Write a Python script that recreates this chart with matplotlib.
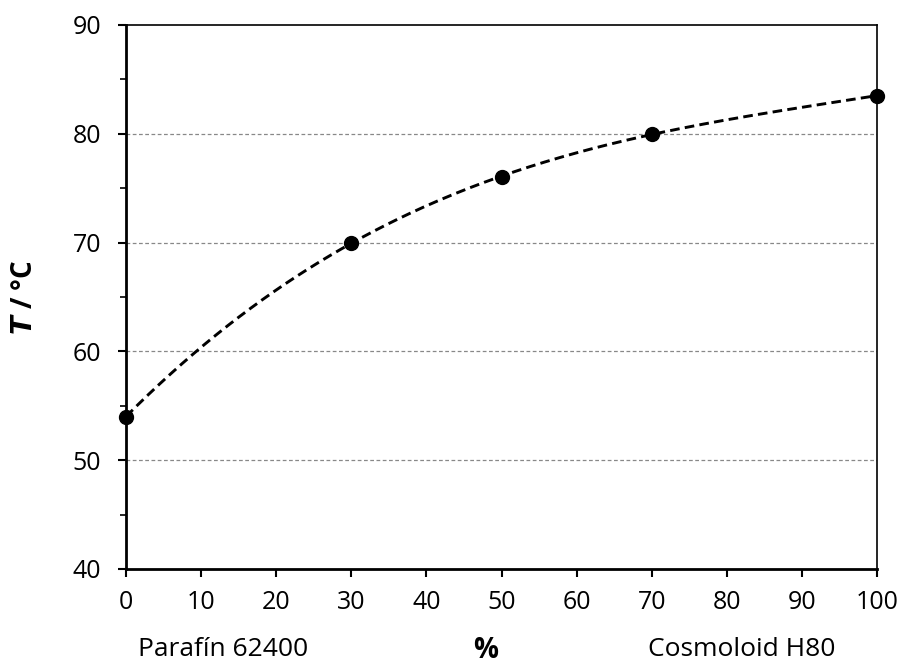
import numpy as np
import matplotlib
matplotlib.use("Agg")
import matplotlib.pyplot as plt
from matplotlib.ticker import MultipleLocator

plt.rcParams['font.family'] = ['Open Sans', 'DejaVu Sans']

pct = [0, 30, 50, 70, 100]
temp = [54, 70, 76, 80, 83.5]
left_label = "Parafín 62400"
right_label = "Cosmoloid H80"

fig = plt.figure(figsize=(9.04, 6.65), dpi=100)
ax = fig.add_axes([126/904, 1-569/665, (877-126)/904, (569-25)/665])

# trendline (polynomial fit of the data)
coef = np.polyfit(pct, temp, 3)
xs = np.linspace(0, 100, 200)
ax.plot(xs, np.polyval(coef, xs), color='black', lw=2.1, ls=(0, (3.3, 1.8)), zorder=3)
ax.plot(pct, temp, 'o', color='black', ms=10, zorder=4, clip_on=False)

ax.set_xlim(0, 100)
ax.set_ylim(40, 90)
ax.xaxis.set_major_locator(MultipleLocator(10))
ax.yaxis.set_major_locator(MultipleLocator(10))
ax.yaxis.set_minor_locator(MultipleLocator(5))
ax.tick_params(axis='both', which='major', labelsize=18, length=6, width=1.5, direction='out', colors='black')
ax.tick_params(axis='y', which='minor', length=4, width=1.2, direction='out')
ax.tick_params(axis='x', pad=9)
ax.tick_params(axis='y', pad=12)

for y in [50, 60, 70, 80]:
    ax.axhline(y, color='#888888', lw=0.9, ls=(0, (3, 2)), zorder=1)

ax.spines['left'].set_linewidth(2)
ax.spines['bottom'].set_linewidth(2)
ax.spines['top'].set_linewidth(1.2)
ax.spines['right'].set_linewidth(1.2)

fig.text(25/904, 1-297/665, "$\\mathbfit{T}$ / °C", rotation=90, ha='center', va='center',
         fontsize=20, fontweight='bold')

fig.text(486/904, 1-650/665, "%", ha='center', va='center', fontsize=20, fontweight='bold')
fig.text(223/904, 1-650/665, left_label, ha='center', va='center', fontsize=19)
fig.text(742/904, 1-650/665, right_label, ha='center', va='center', fontsize=19)

fig.savefig("out.png", dpi=100)
